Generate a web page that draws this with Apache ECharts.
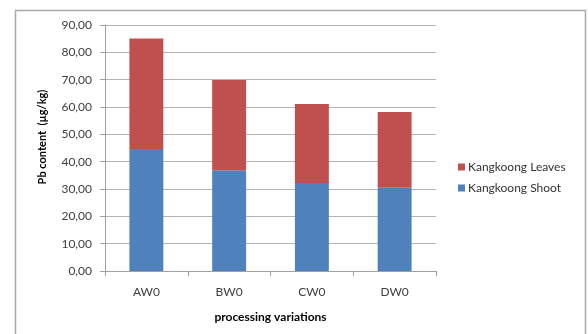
<!DOCTYPE html>
<html>
<head>
    <meta charset="UTF-8">
    <title></title>
    <style type="text/css">
        html, body { margin:0; padding:0; background:#fff; }
        #main1 { width:588px; height:334px; }
    </style>
</head>
<body>
<div id="main1"></div>
<script type="text/javascript" src="https://cdn.jsdelivr.net/npm/echarts@6/dist/echarts.min.js"></script>
<script type="text/javascript">
    // values
    var categories = ['AW0', 'BW0', 'CW0', 'DW0'];
    var shoot = [44.6, 36.9, 32.2, 30.5];
    var leaves = [40.5, 33.0, 28.9, 27.7];
    var seriesNames = ['Kangkoong Shoot', 'Kangkoong Leaves'];

    var myChart1 = echarts.init(document.getElementById('main1'));
    var txtFont = 'Lato, "Open Sans", sans-serif';
    var option1 = {
        animation: false,
        textStyle: {fontFamily: txtFont},
        grid: {left: 105, right: 152, top: 25, bottom: 63},
        graphic: [
            {
                type: 'rect',
                shape: {x: 15.5, y: 10.5, width: 570, height: 340},
                style: {fill: 'none', stroke: '#a9a9a9', lineWidth: 1.5},
                silent: true
            },
            {
                type: 'text',
                x: 42, y: 137,
                rotation: Math.PI / 2,
                style: {
                    text: 'Pb content  (µg/kg)',
                    font: 'bold 11px ' + txtFont,
                    fill: '#000',
                    textAlign: 'center',
                    textVerticalAlign: 'middle'
                }
            }
        ],
        legend: {
            data: [seriesNames[1], seriesNames[0]],
            orient: 'vertical',
            left: 453,
            top: 156,
            itemWidth: 7,
            itemHeight: 7,
            itemGap: 9,
            icon: 'rect',
            textStyle: {fontSize: 12, color: '#333', fontFamily: txtFont, padding: [0, 0, 0, -2]}
        },
        xAxis: {
            type: 'category',
            data: categories,
            name: 'processing variations',
            nameLocation: 'middle',
            nameGap: 40,
            nameTextStyle: {fontWeight: 'bold', fontSize: 12, color: '#000'},
            axisLine: {lineStyle: {color: '#a0a0a0'}},
            axisTick: {show: true, length: 5, lineStyle: {color: '#a0a0a0'}},
            axisLabel: {color: '#404040', fontSize: 12, margin: 15}
        },
        yAxis: {
            type: 'value',
            min: 0,
            max: 90,
            interval: 10,
            axisLine: {show: true, lineStyle: {color: '#a0a0a0'}},
            axisTick: {show: true, length: 5, inside: false, lineStyle: {color: '#a0a0a0'}},
            splitLine: {lineStyle: {color: '#b4b4b4'}},
            axisLabel: {
                color: '#404040', fontSize: 12, margin: 13,
                formatter: function (v) { return v.toFixed(2).replace('.', ','); }
            }
        },
        series: [
            {
                name: seriesNames[0],
                type: 'bar',
                stack: 'pb',
                barWidth: '41%',
                data: shoot,
                itemStyle: {color: '#4f81bd'}
            },
            {
                name: seriesNames[1],
                type: 'bar',
                stack: 'pb',
                barWidth: '41%',
                data: leaves,
                itemStyle: {color: '#c0504d'}
            }
        ]
    };
    myChart1.setOption(option1);
</script>
</body>
</html>
